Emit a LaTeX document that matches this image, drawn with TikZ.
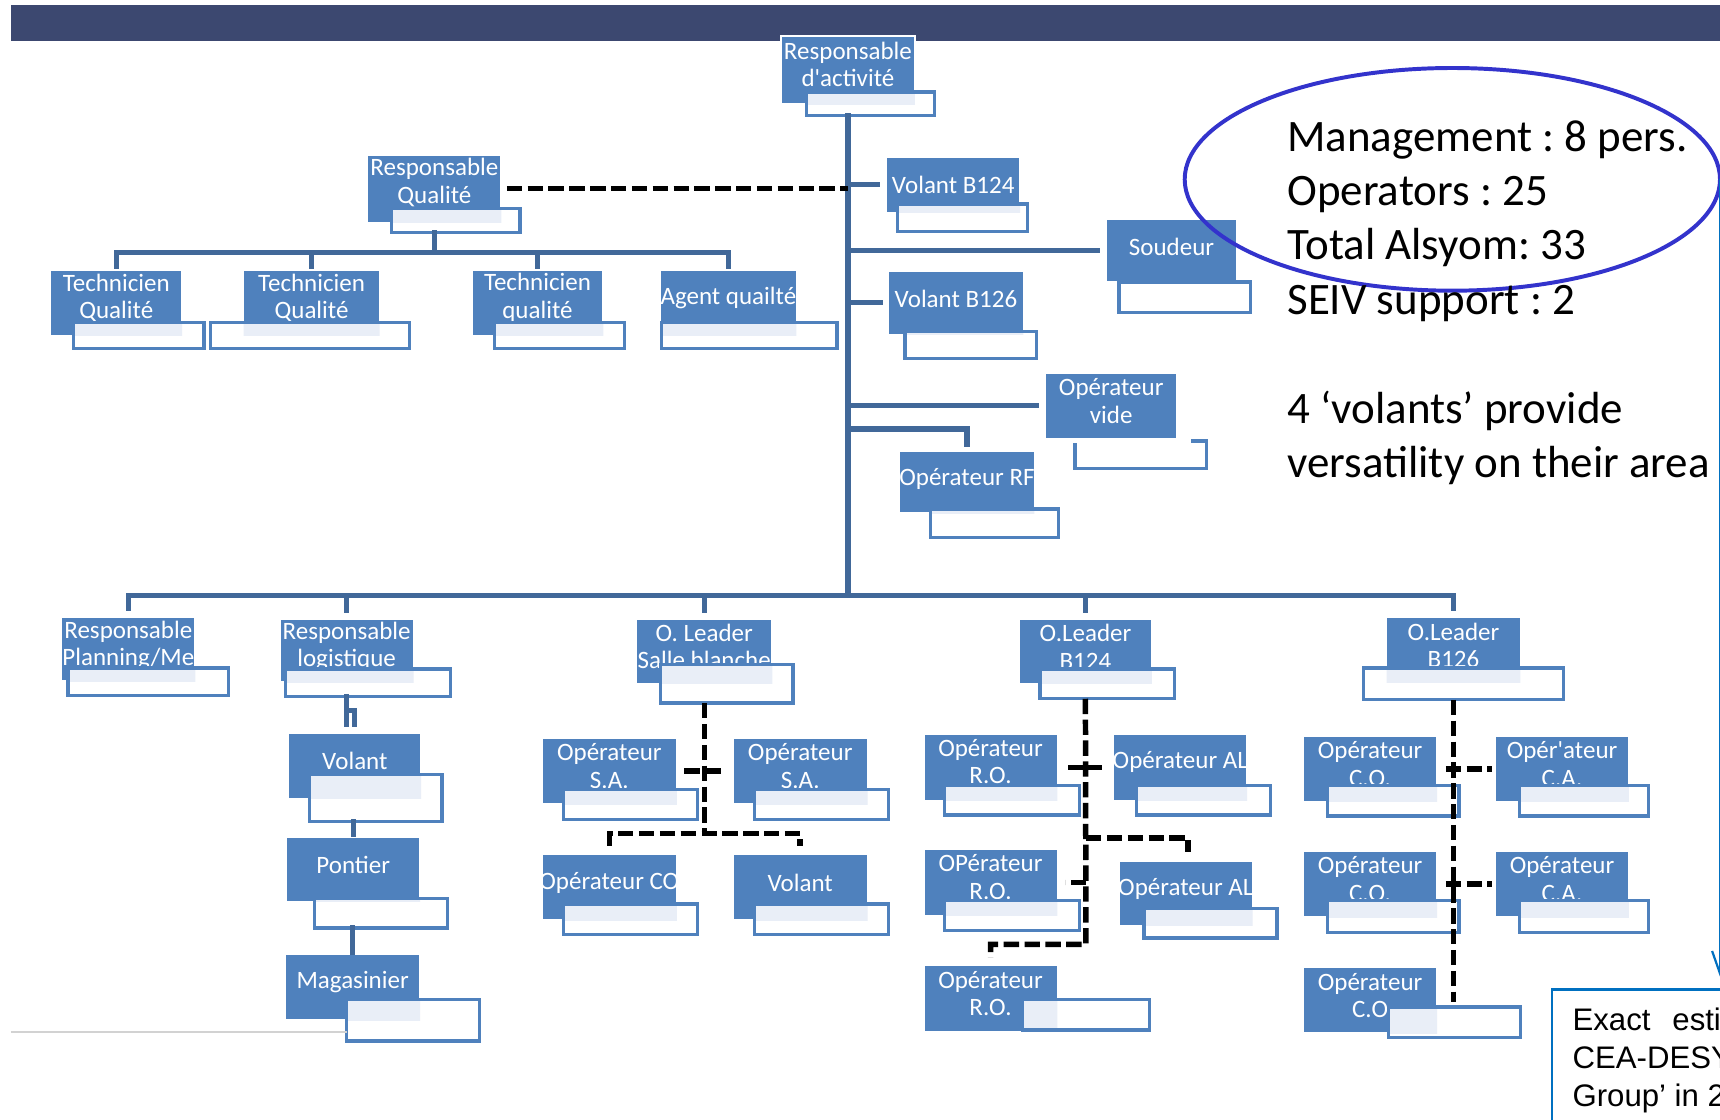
\documentclass[tikz,border=0pt]{standalone}
\usepackage{fontspec}
\setmainfont{Carlito}
\newfontfamily\notefont{Liberation Sans}
\usepackage{tikz}
\usetikzlibrary{arrows.meta,calc,fit,shapes.geometric}
\frenchspacing

\definecolor{barnavy}{RGB}{60,72,112}
\definecolor{boxblue}{RGB}{79,129,189}
\definecolor{linkblue}{RGB}{65,104,153}
\definecolor{boxtint}{RGB}{233,238,247}
\definecolor{ringblue}{RGB}{51,51,204}
\definecolor{noteblue}{RGB}{0,112,192}
\definecolor{rulegray}{RGB}{210,210,210}

% one chart box: name, blue corners, white corners, label
\newcommand{\orgbox}[6]{%
  \node[namebox, fit={(#2) (#3)}] (#1) {};
  \begin{scope}
    \clip (#2) rectangle (#3);
    \node[nametext] (#1t) at ($(#1.north)+(0,25.5)$) {#6};
  \end{scope}
  \node[titlebox, fit={(#4) (#5)}] (#1w) {};
  \begin{scope}
    \clip (#2) rectangle (#3);
    \fill[boxtint] (#4) rectangle (#5);
  \end{scope}
  \draw[titleedge] (#4) rectangle (#5);
}

\begin{document}
\begin{tikzpicture}[x=0.5pt,y=-0.5pt,semithick]
\tikzstyle{namebox}=[fill=boxblue,draw=white,line width=0.8pt,inner sep=0pt,outer sep=0pt]
\tikzstyle{nametext}=[text=white,font=\fontsize{11.4}{12.5}\selectfont,align=center,inner sep=0pt]
\tikzstyle{titlebox}=[fill=white,inner sep=0pt,outer sep=0pt]
\tikzstyle{titleedge}=[draw=boxblue,line width=1.5pt]
\tikzstyle{link}=[draw=linkblue,line width=2.4pt,line cap=rect]
\tikzstyle{dashlink}=[draw=black,line width=2.5pt,dash pattern=on 7pt off 2.5pt]
\tikzstyle{solidlink}=[draw=black,line width=2.5pt]
\tikzstyle{pageline}=[draw=rulegray,line width=1pt]
\tikzstyle{stattext}=[anchor=base west,inner sep=0pt,font=\fontsize{20.5}{24.75}\selectfont]
\tikzstyle{notetext}=[anchor=base west,inner sep=0pt,font=\notefont\fontsize{14.2}{17}\selectfont]

\useasboundingbox (0,0) rectangle (1568,1021);
\clip (0,0) rectangle (1568,1021);
\fill[white] (0,0) rectangle (1568,1021);
\fill[barnavy] (10,5) rectangle (1568,37);

% elbows of the connectors
\coordinate (qbus) at (396,230);
\coordinate (bus) at (773,543);
\coordinate (rfbend) at (880,391);
\coordinate (jog) at (316,648);
\coordinate (sbj) at (642,760);
\coordinate (b124j) at (990,861);
\coordinate (al2j) at (1083,764);
\coordinate (b126j) at (1325,913);
\coordinate (rule) at (10,941);

% top part
\orgbox{actv}{712,33}{834,95}{735,84}{852,105}{Responsable\\d\textquotesingle activité}
\orgbox{respq}{335,141}{457,203}{357,190}{474,212}{Responsable\\Qualité}
\orgbox{tech1}{46,246}{166,306}{67,294}{186,318}{Technicien\\Qualité}
\orgbox{tech2}{222,246}{346,306}{192,294}{373,318}{Technicien\\Qualité}
\orgbox{tech3}{430,246}{550,306}{451,294}{569,318}{Technicien\\qualité}
\orgbox{agent}{602,246}{726,306}{603,294}{763,318}{Agent quailté}
\orgbox{volb124}{808,143}{930,194}{818,186}{937,211}{Volant B124}
\orgbox{soudeur}{1008,200}{1128,257}{1020,257}{1140,285}{Soudeur}
\orgbox{volb126}{810,247}{933,305}{825,302}{945,327}{Volant B126}
\node[namebox, fit={(953,340) (1073,400)}] (opvide) {};
\node[nametext] (opvidet) at ($(opvide.north)+(0,25.5)$) {Opérateur\\vide};
\draw[titleedge] (980,404) -- (980,427) -- (1100,427) -- (1100,402) -- (1086,402);
\orgbox{oprf}{820,411}{943,468}{848,464}{965,490}{Opérateur RF}

% lower part
\orgbox{planning}{56,563}{178,621}{62,609}{208,634}{Responsable\\Planning/Me}
\orgbox{logist}{255,564}{377,622}{260,610}{411,635}{Responsable\\logistique}
\orgbox{volant}{263,668}{384,728}{282,706}{403,749}{Volant}
\orgbox{pontier}{261,763}{383,822}{287,819}{408,846}{Pontier}
\orgbox{magas}{260,870}{383,930}{316,911}{437,949}{Magasinier}

\orgbox{sblanche}{580,564}{704,623}{602,606}{723,641}{O. Leader\\Salle blanche}
\orgbox{sa1}{494,673}{617,733}{514,720}{636,747}{Opérateur\\S.A.}
\orgbox{sa2}{668,673}{791,733}{688,720}{810,747}{Opérateur\\S.A.}
\orgbox{opco}{494,779}{617,839}{514,824}{636,852}{Opérateur CO}
\orgbox{volants}{668,779}{791,839}{688,824}{810,852}{Volant}

\orgbox{b124}{929,564}{1050,623}{948,610}{1071,637}{O.Leader\\B124}
\orgbox{ro1}{842,669}{964,730}{861,716}{984,743}{Opérateur\\R.O.}
\orgbox{al1}{1015,669}{1137,730}{1036,716}{1158,743}{Opérateur AL}
\orgbox{ro2}{842,774}{964,835}{861,821}{984,848}{OPérateur\\R.O.}
\orgbox{al2}{1020,785}{1142,844}{1043,828}{1164,855}{Opérateur AL}
\orgbox{ro3}{842,880}{964,941}{932,911}{1048,939}{Opérateur\\R.O.}

\orgbox{b126}{1264,563}{1386,622}{1243,609}{1425,638}{O.Leader\\B126}
\orgbox{co1}{1188,671}{1310,731}{1210,716}{1330,744}{Opérateur\\C.O.}
\orgbox{ca1}{1363,671}{1485,731}{1385,716}{1503,744}{Opér\textquotesingle ateur\\C.A.}
\orgbox{co2}{1188,776}{1310,836}{1210,821}{1330,850}{Opérateur\\C.O.}
\orgbox{ca2}{1363,776}{1485,836}{1385,821}{1503,850}{Opérateur\\C.A.}
\orgbox{co3}{1188,882}{1310,942}{1266,918}{1386,946}{Opérateur\\C.O}

% solid connectors
\draw[link] (actvw.south -| actv.south) -- (bus -| actv.south);
\draw[link] (volb124.west -| actv.south) -- ([xshift=-4pt]volb124.west);
\draw[link] (soudeur.west -| actv.south) -- ([xshift=-4pt]soudeur.west);
\draw[link] (volb126.west -| actv.south) -- ([xshift=-3.5pt]volb126.west);
\draw[link] (opvide.west -| actv.south) -- ([xshift=-4pt]opvide.west);
\draw[link] (rfbend -| actv.south) -| ([yshift=3pt]oprf.north);
\draw[link] (respqw.south -| respq.south) -- (qbus);
\draw[link] (qbus -| tech1.north) -- (qbus -| agent.north);
\foreach \n in {tech1,tech2,tech3,agent}
  \draw[link] (qbus -| \n.north) -- ([yshift=1.5pt]\n.north);
\draw[link] (bus -| planning.north) -- (bus -| b126.north);
\foreach \n in {planning,logist,sblanche,b124,b126}
  \draw[link] (bus -| \n.north) -- ([yshift=4pt]\n.north);
\draw[link] (logistw.south -| logist.south) -- ++(0,25);
\draw[link] (jog) -| ([yshift=4pt]volant.north);
\draw[link] (volantw.south -| pontier.north) -- ([yshift=1pt]pontier.north);
\draw[link] (pontierw.south -| magas.north) -- ([yshift=1pt]magas.north);
\draw[pageline] (rule) -- (rule -| magasw.west);

% dashed connectors
\draw[dashlink,shorten <=2.5pt] (respq.east) -- (respq.east -| actv.south);
\draw[dashlink] (sblanchew.south -| sblanche.south) -- (sbj);
\draw[dashlink] ([yshift=4pt]opco.north) |- (sbj) -| ([yshift=4pt]volants.north);
\draw[dashlink] ($(sa1.east -| sbj)+(-18,0)$) -- ($(sa1.east -| sbj)+(18,0)$);
\draw[dashlink] (b124w.south -| b124.south) -- (b124j) -| ([yshift=3.5pt]ro3.north);
\draw[solidlink] ($(ro1.east -| b124j)+(-16,0)$) -- ($(ro1.east -| b124j)+(15,0)$);
\draw[dashlink] (al2j -| b124j) -- (al2j) -- ($(al2j)+(0,13)$);
\draw[dashlink] (ro2.east -| b124j) -- ($(ro2.east -| b124j)+(-19,0)$);
\draw[dashlink] (b126w.south -| b126.south) -- (b126j);
\draw[dashlink] ($(co1.east -| b126j)+(-7,0)$) -- ($(co1.east -| b126j)+(35,0)$);
\draw[dashlink] ($(co2.east -| b126j)+(-7,0)$) -- ($(co2.east -| b126j)+(35,0)$);

% figures on the right
\node[draw=ringblue, line width=1.8pt, ellipse, minimum width=244pt,
      minimum height=101.5pt, inner sep=0pt] (summary) at (1324,163.5) {};
\foreach \y/\t [count=\i] in {138/Management : 8 pers., 187/Operators : 25,
    237/Total Alsyom: 33, 287/SEIV support : 2, 386/4 ‘volants’ provide,
    435/versatility on their area}
  \node[stattext] (stat\i) at (1173,\y) {\t};

\node[draw=noteblue, line width=1pt, fit={(1415,902) (1700,1100)}, inner sep=0pt] (note) {};
\foreach \y/\t [count=\i] in {939/{Exact\hspace{10pt}esti}, 974/CEA-DESY, 1009/Group’ in 2}
  \node[notetext] (note\i) at (1433,\y) {\t};
\draw[noteblue, line width=1pt, -{Straight Barb[length=10pt,width=7pt]}]
  ($(summary.east)+(-2,0)$) -- ($(summary.east |- note.north)+(-2,-11)$);

\end{tikzpicture}
\end{document}
